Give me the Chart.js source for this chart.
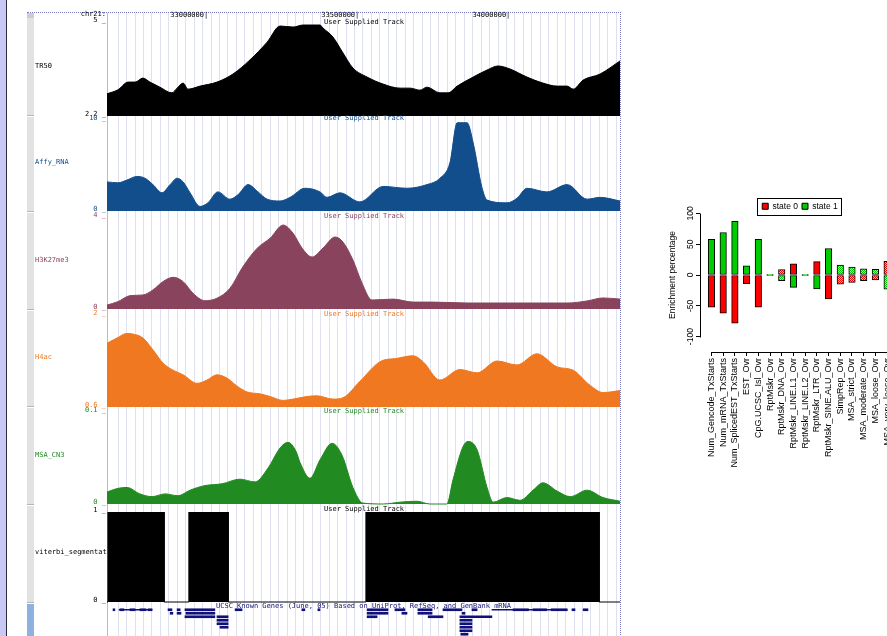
<!DOCTYPE html>
<html><head><meta charset="utf-8">
<title>Genome browser tracks and enrichment chart</title>
<script src="https://cdn.jsdelivr.net/npm/chart.js@4.4.1/dist/chart.umd.min.js"></script>
<style>
html,body{margin:0;padding:0;overflow:hidden;}
body{position:relative;width:887px;height:636px;background:#fff;}
.blk{position:absolute;}
.t{position:absolute;font-family:"DejaVu Sans Mono","Liberation Mono",monospace;font-size:7px;line-height:7px;white-space:nowrap;z-index:20;}
canvas{position:absolute;display:block;}
</style></head><body>
<div class="blk" style="left:0;top:0;width:6px;height:636px;background:#c8c8f4"></div>
<div class="blk" style="left:6px;top:0;width:1px;height:636px;background:#2a2a3a"></div>
<div class="blk" style="left:27px;top:12px;width:593px;height:640px;border-top:1px dotted #7c7cc4;border-right:1px dotted #7c7cc4"></div>
<script>
// ---------------- DATA ----------------
const viewStartKb = 32665, viewEndKb = 34363;          // chr21 window, kb
const positionTicksKb = [33000, 33500, 34000];
const gridStartKb = 32702, gridStepKb = 27.94;

const tr50Pos = [32665,32701,32735,32758,32784,32807,32840,32880,32897,32917,32933,32973,33029,33082,33138,33195,33238,33281,33314,33370,33380,33413,33446,33479,33526,33579,33635,33668,33701,33724,33767,33794,33824,33877,33923,33959,33999,34055,34108,34155,34188,34208,34241,34297,34363];
const tr50Val = [2.86,2.98,3.21,3.21,3.33,3.21,3.06,2.89,3.03,3.18,3.00,3.09,3.21,3.45,3.87,4.40,4.88,4.85,4.91,4.91,4.82,4.55,4.08,3.63,3.36,3.15,3.03,3.03,2.97,3.06,2.89,2.89,3.09,3.36,3.57,3.69,3.60,3.36,3.18,3.09,3.09,3.00,3.27,3.45,3.84];

const affyPos = [32665,32701,32731,32764,32791,32817,32847,32874,32897,32917,32940,32973,32999,33032,33072,33099,33132,33165,33195,33238,33271,33320,33370,33393,33436,33502,33579,33658,33724,33767,33800,33824,33857,33877,33906,33923,33989,34022,34055,34121,34188,34254,34297,34363];
const affyVal = [3.2,3.1,3.4,3.8,3.6,2.9,2.0,2.9,3.6,3.2,2.0,0.5,0.9,2.1,1.3,1.8,2.9,2.1,1.3,1.1,1.5,2.5,2.1,1.5,2.0,1.0,2.7,2.5,2.9,3.6,5.3,9.7,9.7,7.5,2.6,1.2,0.9,1.4,2.5,2.1,2.9,1.3,1.5,1.1];

const h3k27Pos = [32665,32701,32741,32784,32817,32850,32884,32917,32950,32989,33029,33072,33115,33162,33205,33248,33281,33311,33344,33380,33420,33446,33479,33509,33542,33612,33678,33744,33857,33966,34075,34188,34254,34307,34363];
const h3k27Val = [0.17,0.32,0.58,0.61,0.83,1.19,1.38,1.19,0.68,0.36,0.47,0.90,1.84,2.64,3.08,3.65,3.29,2.64,2.26,2.65,3.13,2.91,2.13,1.13,0.39,0.43,0.30,0.30,0.26,0.26,0.26,0.26,0.35,0.48,0.43];

const h4acPos = [32665,32698,32731,32751,32784,32817,32850,32884,32917,32963,32996,33029,33062,33095,33128,33171,33205,33248,33281,33327,33360,33413,33446,33502,33569,33625,33678,33711,33767,33833,33890,33956,34022,34088,34155,34208,34264,34307,34363];
const h4acVal = [1.57,1.65,1.72,1.71,1.65,1.47,1.27,1.16,1.09,0.96,1.01,1.09,1.04,0.92,0.83,0.80,0.76,0.70,0.72,0.76,0.77,0.72,0.74,0.99,1.29,1.34,1.38,1.29,1.01,1.17,1.12,1.30,1.24,1.41,1.21,1.16,0.93,0.82,0.85];

const msaPos = [32665,32701,32731,32774,32814,32857,32900,32940,32989,33046,33105,33155,33198,33238,33264,33291,33304,33337,33370,33410,33443,33479,33512,33579,33635,33691,33734,33790,33810,33843,33860,33890,33923,33943,33989,34032,34075,34108,34155,34198,34254,34307,34363];
const msaVal = [0.013,0.017,0.018,0.011,0.008,0.011,0.009,0.015,0.020,0.022,0.027,0.024,0.039,0.061,0.067,0.057,0.045,0.028,0.048,0.066,0.053,0.018,0.001,0,0.002,0.003,0,0,0.026,0.062,0.068,0.059,0.018,0.002,0.007,0.004,0.015,0.023,0.014,0.008,0.015,0.007,0.003];

const viterbiStarts = [32668, 32936, 33522];
const viterbiEnds   = [32854, 33066, 34294];

const geneRowLabels = ['0','1','2','3','4','5','6','7'];
const geneRow   = ['0','0','0','0','0','0','0','0','0','0','0','0','0','0','0','0','0','0','0','0','0','0','0','1','1','1','1','1','1','1','2','2','2','2','2','3','3','4','4','5','5','6','7'];
const geneStart = [32685,32705,32708,32741,32774,32801,32867,32897,32923,33089,33310,33363,33526,33618,33694,33777,33873,33939,34009,34075,34135,34204,34241,32874,32897,32926,33526,33641,33694,33840,32923,33029,33526,33728,33833,33029,33833,33029,33833,33039,33833,33833,33836];
const geneEnd   = [32691,32814,32721,32758,32794,32814,32880,32907,33022,33112,33320,33370,33595,33651,33741,33840,33890,34188,34060,34120,34188,34214,34257,32883,32910,33022,33595,33658,33741,33850,33022,33066,33559,33777,33939,33066,33873,33066,33873,33066,33873,33873,33860];
const geneExon  = [1,0,1,1,1,1,1,1,1,1,1,1,1,1,1,1,1,0,1,1,1,1,1,1,1,1,1,1,1,1,1,1,1,1,1,1,1,1,1,1,1,1,1];

const categories = ['Num_Gencode_TxStarts','Num_mRNA_TxStarts','Num_SplicedEST_TxStarts','EST_Ovr','CpG.UCSC_Isl_Ovr','RptMskr_Ovr','RptMskr_DNA_Ovr','RptMskr_LINE.L1_Ovr','RptMskr_LINE.L2_Ovr','RptMskr_LTR_Ovr','RptMskr_SINE.ALU_Ovr','SimpRep_Ovr','MSA_strict_Ovr','MSA_moderate_Ovr','MSA_loose_Ovr','MSA_very_loose_Ovr'];
const state0 = [-52,-62,-78,-14,-52,-1.2,8.6,18,-1.2,21.6,-39,-15,-12,-9,-8,22];
const state1 = [58,69,87,15,58,1.2,-9,-20,1.2,-22.7,43,16,13,10,9,-23];
const significant = [true,true,true,true,true,true,false,true,true,true,true,false,false,false,false,false];
const yTickValues = [-100,-50,0,50,100];

// ---------------- helpers ----------------
const mono = '"DejaVu Sans Mono", "Liberation Mono", monospace';
const sans = '"Liberation Sans", Arial, Helvetica, sans-serif';
function addCanvas(left, top, w, h, z) {
  const c = document.createElement('canvas');
  c.width = w; c.height = h;
  c.style.left = left + 'px'; c.style.top = top + 'px';
  c.style.width = w + 'px'; c.style.height = h + 'px';
  c.style.zIndex = z;
  document.body.appendChild(c);
  return c;
}
function addDiv(left, top, w, h, bg, z, extra) {
  const d = document.createElement('div');
  d.className = 'blk';
  d.style.cssText = `left:${left}px;top:${top}px;width:${w}px;height:${h}px;background:${bg};z-index:${z};` + (extra || '');
  document.body.appendChild(d);
  return d;
}
function addText(txt, left, centerY, color, alignRight) {
  const d = document.createElement('div');
  d.className = 't';
  d.textContent = txt;
  d.style.color = color;
  d.style.top = (centerY - 3.5) + 'px';
  if (alignRight) { d.style.right = (887 - left) + 'px'; } else { d.style.left = left + 'px'; }
  document.body.appendChild(d);
  return d;
}
const base = { responsive: false, animation: false, events: [], devicePixelRatio: 1 };

// ---------------- browser layout ----------------
const tracks = [
  { label: 'TR50', pos: tr50Pos, val: tr50Val, min: 2.2, max: 5, top: 22, bottom: 116, color: '#000000', title: 22.5, lab: 66, strip: [13, 116] },
  { label: 'Affy_RNA', pos: affyPos, val: affyVal, min: 0, max: 10, top: 120, bottom: 211, color: '#124e8c', title: 118.5, lab: 162.5, strip: [117, 212] },
  { label: 'H3K27me3', pos: h3k27Pos, val: h3k27Val, min: 0, max: 4, top: 217, bottom: 309, color: '#89435d', title: 216.5, lab: 260, strip: [213, 310] },
  { label: 'H4ac', pos: h4acPos, val: h4acVal, min: 0.6, max: 2, top: 315, bottom: 407, color: '#f07820', title: 314, lab: 357, strip: [311, 407] },
  { label: 'MSA_CN3', pos: msaPos, val: msaVal, min: 0, max: 0.1, top: 412, bottom: 504, color: '#218a21', title: 411.5, lab: 455, strip: [408, 505] },
  { label: 'viterbi_segmentat', pos: null, val: null, min: 0, max: 1, top: 512, bottom: 602, color: '#000000', title: 509, lab: 552, strip: [506, 603] }
];

// left button strip
tracks.forEach(t => addDiv(27, t.strip[0], 7, t.strip[1] - t.strip[0], '#e2e2e2', 1, 'border-bottom:1px solid #b5b5b5;box-sizing:border-box;'));
addDiv(27, 13, 7, 5, '#cdcdcd', 2);
addDiv(27, 604, 7, 32, '#8cb2e0', 1);
// red left edge of image area
addDiv(107, 13, 1, 623, '#f2a6a6', 6);

// ruler / guide lines
const rulerCanvas = addCanvas(107, 13, 513, 623, 3);
new Chart(rulerCanvas, {
  type: 'line',
  data: { datasets: [] },
  options: Object.assign({}, base, {
    layout: { padding: 0 },
    plugins: { legend: { display: false }, tooltip: { enabled: false } },
    scales: {
      x: { type: 'linear', min: viewStartKb, max: viewEndKb,
           afterBuildTicks: s => { const tk = []; for (let v = gridStartKb; v < viewEndKb; v += gridStepKb) tk.push({ value: v }); s.ticks = tk; },
           ticks: { display: false }, grid: { color: '#dfe1f1', drawTicks: false }, border: { display: false } },
      y: { display: false, min: 0, max: 1 }
    }
  })
});

function viterbiPoints() {
  const pts = [{ x: viewStartKb, y: 0 }];
  viterbiStarts.forEach((s, i) => {
    pts.push({ x: s, y: 0 }, { x: s, y: 1 }, { x: viterbiEnds[i], y: 1 }, { x: viterbiEnds[i], y: 0 });
  });
  pts.push({ x: viewEndKb, y: 0 });
  return pts;
}

tracks.forEach((t, idx) => {
  const isFirst = idx === 0;
  const padTop = isFirst ? 1 : 8, padBottom = 3, axisH = isFirst ? 11 : 0;
  const cTop = t.top - padTop - axisH;
  const cv = addCanvas(35, cTop, 585, (t.bottom - t.top) + padTop + axisH + padBottom, 10 + idx);
  const isStep = t.pos === null;
  const data = isStep ? viterbiPoints() : t.pos.map((p, i) => ({ x: p, y: t.val[i] }));
  new Chart(cv, {
    type: 'line',
    data: { datasets: [{
      label: t.label, data: data,
      fill: isStep ? 'origin' : 'start',
      backgroundColor: t.color, borderColor: t.color, borderWidth: 1,
      pointRadius: 0, tension: isStep ? 0 : 0.4,
      cubicInterpolationMode: isStep ? 'default' : 'monotone',
      clip: { left: 0, top: 0, right: 0, bottom: 1 }
    }] },
    options: Object.assign({}, base, {
      layout: { padding: { top: padTop, bottom: padBottom, left: 0, right: 0 } },
      plugins: { legend: { display: false }, tooltip: { enabled: false } },
      scales: {
        x: isFirst ? {
          type: 'linear', min: viewStartKb, max: viewEndKb, position: 'top',
          afterBuildTicks: s => { s.ticks = positionTicksKb.map(v => ({ value: v })); },
          afterFit: s => { s.height = axisH; s.paddingLeft = 0; s.paddingRight = 0; },
          grid: { display: false, drawTicks: false }, border: { display: false },
          ticks: { align: 'end', padding: 3, color: '#000', font: { family: mono, size: 7 }, autoSkip: false,
                   callback: v => (v * 1000) + '|' }
        } : { type: 'linear', min: viewStartKb, max: viewEndKb, display: false },
        y: {
          min: t.min, max: t.max,
          afterBuildTicks: s => { s.ticks = [{ value: t.min }, { value: t.max }]; },
          afterFit: s => { s.width = 72; s.paddingTop = 0; s.paddingBottom = 0; },
          grid: { display: false, drawTicks: false }, border: { display: false },
          ticks: { color: t.color, font: { family: mono, size: 7 }, padding: 1, labelOffset: -2, autoSkip: false,
                   callback: v => v + ' _' }
        }
      }
    })
  });
  addText(t.label, 35, t.lab, t.color, false);
  addText('User Supplied Track', 324, t.title, t.color, false);
});
addText('chr21:', 106, 14.5, '#000', true);

// gene track
const geneCanvas = addCanvas(107, 608, 513, 28, 12);
const thin = [], thick = [];
geneStart.forEach((s, i) => { (geneExon[i] ? thick : thin).push({ x: [s, geneEnd[i]], y: geneRow[i] }); });
new Chart(geneCanvas, {
  type: 'bar',
  data: { labels: geneRowLabels, datasets: [
    { label: 'introns', data: thin, backgroundColor: '#10107a', barThickness: 1, grouped: false },
    { label: 'exons', data: thick, backgroundColor: '#10107a', barThickness: 2, grouped: false }
  ] },
  options: Object.assign({}, base, {
    indexAxis: 'y',
    layout: { padding: 0 },
    plugins: { legend: { display: false }, tooltip: { enabled: false } },
    scales: {
      x: { type: 'linear', min: viewStartKb, max: viewEndKb, display: false },
      y: { type: 'category', labels: geneRowLabels, display: false, offset: true }
    }
  })
});
addText('UCSC Known Genes (June, 05) Based on UniProt, RefSeq, and GenBank mRNA', 216, 606, '#141478', false);

// ---------------- enrichment bar chart ----------------
function hatch(color, light) {
  const c = document.createElement('canvas'); c.width = 2; c.height = 2;
  const g = c.getContext('2d');
  g.fillStyle = light; g.fillRect(0, 0, 2, 2);
  g.fillStyle = color; g.fillRect(0, 0, 1, 1); g.fillRect(1, 1, 1, 1);
  return g.createPattern(c, 'repeat');
}
const RED = '#ff0000', GREEN = '#00cd00';
const redHatch = hatch(RED, '#ffb0b0'), greenHatch = hatch(GREEN, '#b0ecb0');
function fillFor(ctx, which) {
  const solid = which === 0 ? RED : GREEN;
  if (ctx.type !== 'data') return solid;
  return significant[ctx.dataIndex] ? solid : (which === 0 ? redHatch : greenHatch);
}
// legend sits inside the plot region (R style): it takes no layout height
const legendInPlot = {
  id: 'legendInPlot',
  beforeUpdate(chart) {
    const lg = chart.legend;
    if (lg && !lg._rFit) {
      const f = lg.fit.bind(lg);
      lg.fit = function () { f(); this.height = 0; };
      lg._rFit = true;
    }
  },
  afterLayout(chart) {
    const lg = chart.legend;
    if (lg) { lg.height = 20; lg.bottom = lg.top + 20; }
  }
};
const rAxes = {
  id: 'rAxes',
  afterDraw(chart) {
    const { ctx, chartArea, scales: { x, y } } = chart;
    const px = v => Math.round(v) + 0.5;
    ctx.save();
    ctx.strokeStyle = '#000'; ctx.lineWidth = 1;
    ctx.beginPath();
    ctx.moveTo(px(chartArea.left), px(y.getPixelForValue(yTickValues[0])));
    ctx.lineTo(px(chartArea.left), px(y.getPixelForValue(yTickValues[yTickValues.length - 1])));
    ctx.moveTo(x.getPixelForValue(0), px(chartArea.bottom));
    ctx.lineTo(x.getPixelForValue(categories.length - 1), px(chartArea.bottom));
    ctx.stroke();
    const hb = chart.legend && chart.legend.legendHitBoxes;
    if (hb && hb.length) {
      const l = Math.min(...hb.map(b => b.left)) - 5;
      const r = Math.max(...hb.map(b => b.left + b.width)) + 3;
      const tp = Math.min(...hb.map(b => b.top)) - 4;
      const bt = Math.max(...hb.map(b => b.top + b.height)) + 4;
      ctx.strokeRect(px(l), px(tp), Math.round(r - l), Math.round(bt - tp));
    }
    ctx.restore();
  }
};
const barCanvas = addCanvas(664, 190, 236, 292, 15);
new Chart(barCanvas, {
  type: 'bar',
  data: { datasets: [
    { label: 'state 0', data: state0.map((v, i) => ({ x: i, y: v })), backgroundColor: c => fillFor(c, 0),
      borderColor: '#000', borderWidth: 1, borderSkipped: false, barThickness: 6.5 },
    { label: 'state 1', data: state1.map((v, i) => ({ x: i, y: v })), backgroundColor: c => fillFor(c, 1),
      borderColor: '#000', borderWidth: 1, borderSkipped: false, barThickness: 6.5 }
  ] },
  options: Object.assign({}, base, {
    layout: { padding: { top: 8, left: 0, right: 0, bottom: 0 } },
    plugins: {
      legend: { position: 'top', align: 'center', fullSize: false,
                labels: { boxWidth: 6, boxHeight: 6, padding: 4, color: '#000', font: { family: sans, size: 8.5 } } },
      tooltip: { enabled: false }
    },
    scales: {
      x: { type: 'linear', min: -0.98, max: 16.1, stacked: true, offset: false,
           afterBuildTicks: s => { s.ticks = categories.map((c, i) => ({ value: i })); },
           afterFit: s => { s.height = 130; s.paddingLeft = 0; s.paddingRight = 0; },
           grid: { drawOnChartArea: false, drawTicks: true, tickLength: 4, color: '#000', offset: false },
           border: { display: false },
           ticks: { autoSkip: false, minRotation: 90, maxRotation: 90, padding: 2, color: '#000',
                    font: { family: sans, size: 9 }, callback: v => categories[v] } },
      y: { min: -124.9, max: 124.9, stacked: true,
           afterBuildTicks: s => { s.ticks = yTickValues.map(v => ({ value: v })); },
           afterFit: s => { s.width = 36; },
           grid: { drawOnChartArea: false, drawTicks: true, tickLength: 4, color: '#000' },
           border: { display: false },
           ticks: { minRotation: 90, maxRotation: 90, crossAlign: 'center', padding: -3, color: '#000',
                    font: { family: sans, size: 8.5 }, callback: v => String(v) },
           title: { display: true, text: 'Enrichment percentage', color: '#000',
                    font: { family: sans, size: 8.5 }, padding: { top: 4, bottom: 0 } } }
    }
  }),
  plugins: [legendInPlot, rAxes]
});
</script>
</body></html>
